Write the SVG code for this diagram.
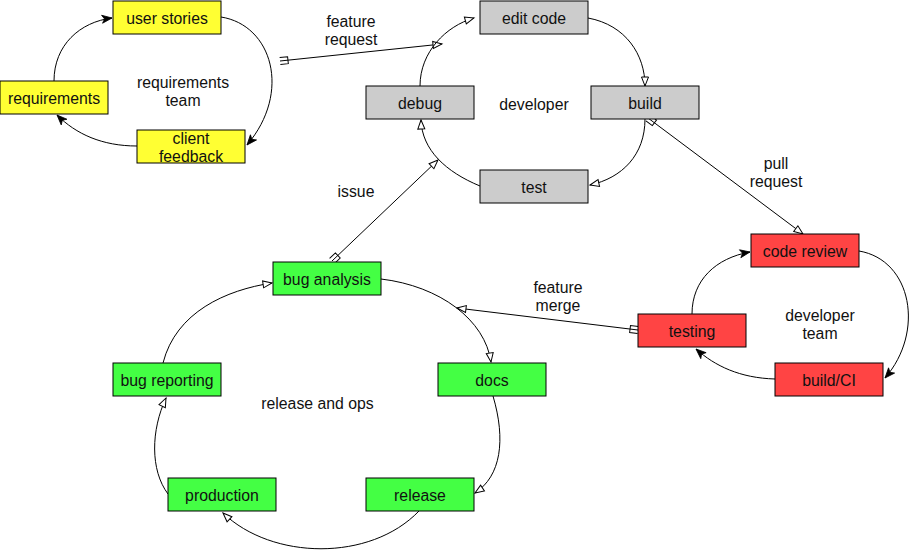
<svg xmlns="http://www.w3.org/2000/svg" width="914" height="552" viewBox="0 0 914 552">
<style>
.n rect{stroke:#000;stroke-width:1}
.y rect{fill:#ffff33}
.g rect{fill:#cccccc}
.r rect{fill:#ff4444}
.gr rect{fill:#44ff44}
text{font-family:"Liberation Sans",Arial,sans-serif;font-size:15.8px;fill:#111;text-anchor:middle}
#connectors path{fill:none;stroke:#000;stroke-width:1}
.f{marker-end:url(#filled)}
.o{marker-end:url(#open)}
.t{marker-start:url(#tail)}
</style>
<defs>
<marker id="filled" markerUnits="userSpaceOnUse" markerWidth="14" markerHeight="12" viewBox="-11 -6 12 12" refX="0" refY="0" orient="auto">
<path d="M0,0 L-10,-4 L-7.5,0 L-10,4 Z" fill="#000" stroke="#000" stroke-width="0.8"/>
</marker>
<marker id="open" markerUnits="userSpaceOnUse" markerWidth="14" markerHeight="12" viewBox="-11 -6 12 12" refX="0" refY="0" orient="auto">
<path d="M0,0 L-9,-3.5 L-9,3.5 Z" fill="#fff" stroke="#000" stroke-width="1"/>
</marker>
<marker id="tail" markerUnits="userSpaceOnUse" markerWidth="12" markerHeight="12" viewBox="-1 -6 12 12" refX="0" refY="0" orient="auto">
<path d="M0,-3.5 L8,-3.5 L8,3.5 L0,3.5" fill="none" stroke="#000" stroke-width="1"/>
</marker>
</defs>
<g id="connectors">
<path class="f" d="M54,81 C54,45 80,22 112,18"/>
<path class="f" d="M221,17 C272,25 292,92 247,145"/>
<path class="f" d="M137,146 C102,146 76,134 57,115"/>
<path class="o t" d="M280,61 L442,44"/>
<path class="o" d="M420,86 C420,52 446,26 474,18"/>
<path class="o" d="M588,18 C626,25 645,55 645,86"/>
<path class="o" d="M645,119 C645,155 622,178 590,185"/>
<path class="o" d="M480,186 C446,172 422,150 421,120"/>
<path class="o t" d="M332,261 L438,160"/>
<path class="o t" d="M648,118 L803,234"/>
<path class="f" d="M692,314 C692,280 716,258 750,252"/>
<path class="f" d="M859,251 C912,260 925,332 885,378"/>
<path class="f" d="M775,379 C740,378 715,366 696,349"/>
<path class="o t" d="M638,330 L457,308"/>
<path class="o" d="M381,279 C440,286 485,320 491,362"/>
<path class="o" d="M493,396 C506,440 501,476 475,493"/>
<path class="o" d="M419,511 C370,562 272,560 223,513"/>
<path class="o" d="M168,494 C150,470 151,430 166,398"/>
<path class="o" d="M163,363 C176,312 226,290 272,283"/>
</g>
<g id="user-stories" class="n y"><rect x="113" y="1" width="108" height="33"/><text x="167" y="23.5">user stories</text></g>
<g id="requirements" class="n y"><rect x="0" y="81" width="108" height="33"/><text x="54" y="103.5">requirements</text></g>
<g id="client-feedback" class="n y"><rect x="137" y="130" width="108" height="33"/><text x="191" y="144">client</text><text x="191" y="162">feedback</text></g>
<g id="edit-code" class="n g"><rect x="480" y="1" width="108" height="33"/><text x="534" y="23.5">edit code</text></g>
<g id="debug" class="n g"><rect x="366" y="86" width="108" height="33"/><text x="420" y="108.5">debug</text></g>
<g id="build" class="n g"><rect x="591" y="86" width="108" height="33"/><text x="645" y="108.5">build</text></g>
<g id="test" class="n g"><rect x="480" y="170" width="108" height="33"/><text x="534" y="192.5">test</text></g>
<g id="code-review" class="n r"><rect x="751" y="234" width="108" height="33"/><text x="805" y="256.5">code review</text></g>
<g id="testing" class="n r"><rect x="638" y="314" width="108" height="33"/><text x="692" y="336.5">testing</text></g>
<g id="build-ci" class="n r"><rect x="775" y="363" width="108" height="33"/><text x="829" y="385.5">build/CI</text></g>
<g id="bug-analysis" class="n gr"><rect x="273" y="262" width="108" height="33"/><text x="327" y="284.5">bug analysis</text></g>
<g id="bug-reporting" class="n gr"><rect x="113" y="363" width="108" height="33"/><text x="167" y="385.5">bug reporting</text></g>
<g id="docs" class="n gr"><rect x="438" y="363" width="108" height="33"/><text x="492" y="385.5">docs</text></g>
<g id="production" class="n gr"><rect x="168" y="478" width="108" height="33"/><text x="222" y="500.5">production</text></g>
<g id="release" class="n gr"><rect x="366" y="478" width="108" height="33"/><text x="420" y="500.5">release</text></g>
<g id="labels">
<text x="183" y="88">requirements</text><text x="183" y="106">team</text>
<text x="351" y="27">feature</text><text x="351" y="45">request</text>
<text x="534" y="110">developer</text>
<text x="356" y="197">issue</text>
<text x="776" y="169">pull</text><text x="776" y="187">request</text>
<text x="558" y="293">feature</text><text x="558" y="311">merge</text>
<text x="820" y="321">developer</text><text x="820" y="339">team</text>
<text x="317.5" y="409">release and ops</text>
</g>
</svg>
